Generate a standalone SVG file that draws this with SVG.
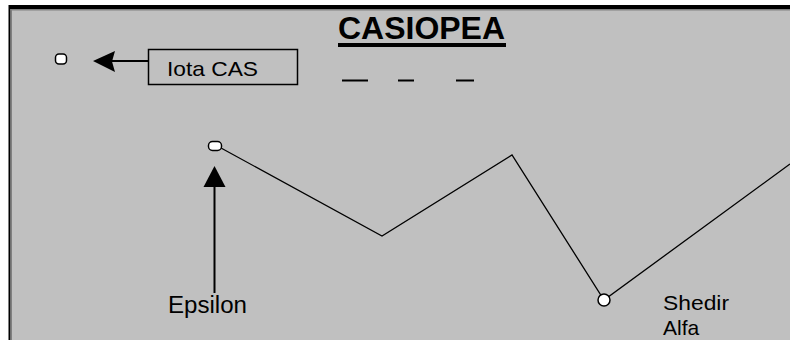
<svg xmlns="http://www.w3.org/2000/svg" width="790" height="340" viewBox="0 0 790 340">
<style>
.lbl{font-family:"Liberation Sans",Arial,sans-serif;font-size:23px;fill:#000}
.star{fill:#fff;stroke:#000;stroke-width:1.5}
.ln{fill:none;stroke:#000;stroke-width:1.3}
</style>
<rect x="0" y="0" width="790" height="340" fill="#fff"/>
<rect x="9" y="5" width="781" height="335" fill="#c0c0c0"/>
<rect x="9" y="5" width="781" height="4" fill="#000"/>
<rect x="8.5" y="5" width="2" height="335" fill="#000"/>
<rect x="10.5" y="9" width="779.5" height="1.5" fill="#808080"/>
<rect x="10.5" y="9" width="1.5" height="331" fill="#808080"/>

<g id="title">
<text x="338" y="39" textLength="167" lengthAdjust="spacingAndGlyphs" style="font-family:'Liberation Sans',Arial,sans-serif;font-size:31px;font-weight:bold">CASIOPEA</text>
<rect x="338" y="43" width="168" height="4" fill="#000"/>
</g>
<g id="dashes" fill="#000">
<rect x="342" y="79.5" width="26" height="2"/>
<rect x="398" y="79.5" width="16" height="2"/>
<rect x="456" y="79.5" width="18" height="2"/>
</g>

<g id="connectors">
<polyline class="ln" points="221,148 382,236 512,155 604,300 790,164"/>
<line x1="148" y1="61" x2="112" y2="61" stroke="#000" stroke-width="2"/>
<polygon points="93,61 115,51 112,61.5 115,72" fill="#000"/>
<line x1="214.5" y1="293" x2="214.5" y2="184" stroke="#000" stroke-width="2"/>
<polygon points="214.5,166 203.5,187 225.5,187" fill="#000"/>
</g>

<g id="iota-star"><rect class="star" x="55.5" y="54" width="11" height="10" rx="3.5"/></g>
<g id="iota-label">
<rect x="148.5" y="49.5" width="149" height="35" fill="none" stroke="#000" stroke-width="1.5"/>
<text class="lbl" x="167" y="76" textLength="91" lengthAdjust="spacingAndGlyphs" style="font-size:21px">Iota CAS</text>
</g>
<g id="epsilon"><rect class="star" x="208.5" y="141.5" width="13" height="9" rx="4"/></g>
<g id="epsilon-label"><text class="lbl" x="168" y="313" textLength="79" lengthAdjust="spacingAndGlyphs">Epsilon</text></g>
<g id="shedir"><circle class="star" cx="604" cy="300" r="6"/></g>
<g id="shedir-label">
<text class="lbl" x="663" y="310" textLength="66" lengthAdjust="spacingAndGlyphs" style="font-size:21px">Shedir</text>
<text class="lbl" x="663" y="335" style="font-size:21px">Alfa</text>
</g>
</svg>
